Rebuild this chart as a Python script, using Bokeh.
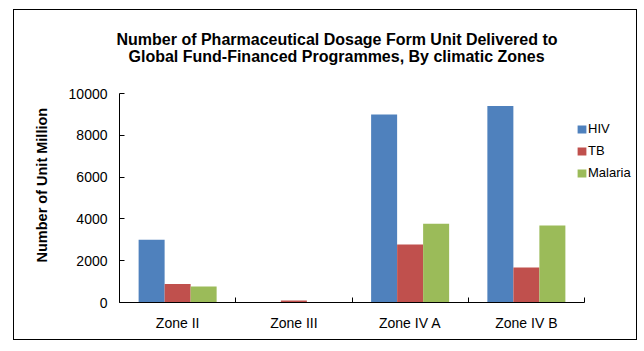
from bokeh.plotting import figure
from bokeh.models import FixedTicker, Legend, LegendItem, Title, ColumnDataSource
from bokeh.transform import dodge
from bokeh.embed import file_html
from bokeh.resources import INLINE

zones = ["Zone II", "Zone III", "Zone IV A", "Zone IV B"]
hiv = [3000, 0, 9000, 9400]
tb = [880, 100, 2770, 1670]
malaria = [770, 0, 3770, 3680]
series_names = ["HIV", "TB", "Malaria"]
colors = ["#4F81BD", "#C0504D", "#9BBB59"]
yticks = [0, 2000, 4000, 6000, 8000, 10000]
title_lines = ["Number of Pharmaceutical Dosage Form Unit Delivered to",
               "Global Fund-Financed Programmes, By climatic  Zones"]
y_label = "Number of Unit Million"

FONT = "Liberation Sans"

n = len(zones)
centers = [i + 0.5 for i in range(n)]
source = ColumnDataSource(dict(x=centers, HIV=hiv, TB=tb, Malaria=malaria))

# frame spans the axis width (465 px) plus room on the right for the legend
axis_px, frame_px = 465, 515
x_end = n * frame_px / axis_px

p = figure(width=622, height=329, x_range=(0, x_end), y_range=(0, 10000),
           output_backend="svg", toolbar_location=None,
           min_border_left=105, min_border_right=2, min_border_top=83, min_border_bottom=37)
p.margin = (10, 8, 12, 14)
p.styles = {"outline": "1.3px solid black"}
p.title = None

spacer = Title(text=" ", text_font_size="1px", standoff=26)
t2 = Title(text=title_lines[1], align="left", text_font=FONT, text_font_size="16px",
           text_font_style="bold", text_color="black", offset=9, standoff=0)
t1 = Title(text=title_lines[0], align="left", text_font=FONT, text_font_size="16px",
           text_font_style="bold", text_color="black", offset=-3, standoff=-4)
p.add_layout(spacer, "above")
p.add_layout(t2, "above")
p.add_layout(t1, "above")

ytitle = Title(text=y_label, align="left", text_font=FONT, text_font_size="14.5px",
               text_font_style="bold", text_color="black", offset=40, standoff=31)
p.add_layout(ytitle, "left")

bw = 0.2237
renderers = []
for k, (name, col) in enumerate(zip(series_names, colors)):
    r = p.vbar(x=dodge("x", (k - 1) * bw, range=p.x_range), top=name, width=bw, bottom=0,
               source=source, fill_color=col, line_color=None)
    renderers.append(r)

legend = Legend(items=[LegendItem(label=s, renderers=[r]) for s, r in zip(series_names, renderers)],
                location=(457, 122), glyph_width=11, glyph_height=10, label_standoff=1,
                label_text_font=FONT, label_text_font_size="13px", label_text_color="black",
                spacing=7, padding=0, margin=0, border_line_color=None, background_fill_alpha=0,
                label_height=14)
p.add_layout(legend, "center")

p.xgrid.visible = False
p.ygrid.visible = False
p.outline_line_color = None

ya = p.yaxis[0]
ya.ticker = FixedTicker(ticks=yticks, minor_ticks=[])
ya.major_tick_in = 5
ya.major_tick_out = 0
ya.minor_tick_in = 0
ya.minor_tick_out = 0
ya.major_label_standoff = 12
ya.major_label_text_font = FONT
ya.major_label_text_font_size = "14px"
ya.major_label_text_color = "black"
ya.axis_line_color = "black"
ya.major_tick_line_color = "black"

xa = p.xaxis[0]
xa.bounds = (0, n)
xa.ticker = FixedTicker(ticks=centers, minor_ticks=list(range(n + 1)))
xa.major_label_overrides = {c: z for c, z in zip(centers, zones)}
xa.major_tick_in = 0
xa.major_tick_out = 0
xa.minor_tick_in = 5
xa.minor_tick_out = 0
xa.minor_tick_line_color = "black"
xa.major_label_standoff = 12
xa.major_label_text_font = FONT
xa.major_label_text_font_size = "14px"
xa.major_label_text_color = "black"
xa.axis_line_color = "black"

open("out.html", "w").write(file_html(p, INLINE))
